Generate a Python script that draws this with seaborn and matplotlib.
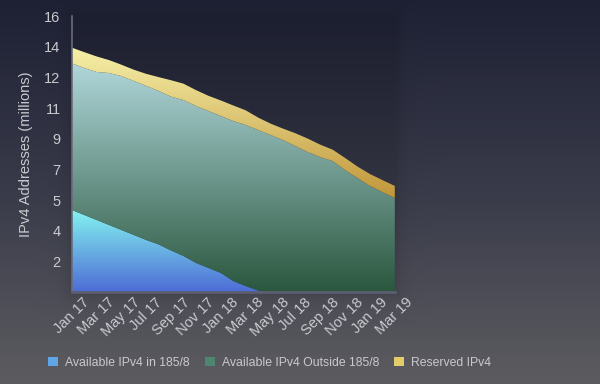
# %%
import numpy as np
import pandas as pd
import matplotlib
matplotlib.use("Agg")
import matplotlib.pyplot as plt
import seaborn as sns
from matplotlib.colors import LinearSegmentedColormap
from matplotlib.patches import Patch

# %%
months = pd.date_range("2017-01-01", "2019-03-01", freq="MS")
xtick_labels = ["Jan 17", "Mar 17", "May 17", "Jul 17", "Sep 17", "Nov 17", "Jan 18",
                "Mar 18", "May 18", "Jul 18", "Sep 18", "Nov 18", "Jan 19", "Mar 19"]
ytick_labels = ["2", "4", "5", "7", "9", "11", "12", "14", "16"]

# millions of addresses, one value per month
avail_185 = [4.77, 4.48, 4.19, 3.90, 3.61, 3.32, 3.03, 2.77, 2.42, 2.10, 1.70, 1.41, 1.12,
             0.65, 0.36, 0.10, 0, 0, 0, 0, 0, 0, 0, 0, 0, 0, 0]
avail_outside = [8.49, 8.51, 8.57, 8.80, 8.91, 8.92, 8.92, 8.89, 8.91, 9.03, 9.09, 9.09, 9.09,
                 9.27, 9.33, 9.30, 9.11, 8.82, 8.47, 8.12, 7.83, 7.60, 7.08, 6.62, 6.16, 5.81, 5.46]
reserved = [0.91, 0.92, 0.90, 0.75, 0.66, 0.65, 0.70, 0.80, 0.95, 0.95, 0.92, 0.88, 0.90,
            0.90, 0.85, 0.72, 0.66, 0.66, 0.74, 0.78, 0.72, 0.66, 0.70, 0.66, 0.69, 0.69, 0.70]

series = ["Available IPv4 in 185/8", "Available IPv4 Outside 185/8", "Reserved IPv4"]
grad_colors = [("#4d6cd6", "#84f4f0"), ("#2a573e", "#b0d6da"), ("#c1963a", "#f6f0a8")]
legend_colors = ["#5fa6e6", "#4f8670", "#e2cd6a"]

# %%
sns.set_theme(style="dark")
txt = "#c9c9ce"
plt.rcParams["font.family"] = ["Liberation Sans", "DejaVu Sans"]

fig = plt.figure(figsize=(6, 3.84), dpi=100)

# background gradient + soft shadow around the plot area
H, W = 384, 600
yy, xx = np.mgrid[0:H, 0:W]
bg_cmap = LinearSegmentedColormap.from_list("bg", ["#1e2134", "#393b4a", "#5c5c60"])
bg_rgb = bg_cmap(yy / (H - 1))[..., :3]
dx = np.maximum(np.maximum(72 - xx, xx - 395), 0)
dy = np.maximum(np.maximum(16 - yy, yy - 292), 0)
shade = 0.12 * np.exp(-np.hypot(dx, dy) / 8)
bg_rgb = bg_rgb * (1 - shade[..., None])
bg = fig.add_axes([0, 0, 1, 1], zorder=-10)
bg.imshow(bg_rgb, aspect="auto", extent=[0, 1, 1, 0])
bg.set_axis_off()

ax = fig.add_axes([0.1195, 0.2388, 0.5385, 0.7195])
ax.set_facecolor("none")

x = np.arange(len(months))
polys = ax.stackplot(x, avail_185, avail_outside, reserved, colors=["none"] * 3, linewidth=0)

tops = np.cumsum([avail_185, avail_outside, reserved], axis=0)
grad = np.linspace(0, 1, 256).reshape(-1, 1)
for i, (poly, (c0, c1)) in enumerate(zip(polys, grad_colors)):
    lo = 0 if i < 2 else tops[1].min()
    hi = tops[i].max()
    cmap = LinearSegmentedColormap.from_list(f"g{i}", [c0, c1])
    im = ax.imshow(grad, extent=[x[0], x[-1], lo, hi], origin="lower", aspect="auto",
                   cmap=cmap, zorder=2)
    im.set_clip_path(poly.get_paths()[0], ax.transData)

ax.set_xlim(x[0], x[-1])
ax.set_ylim(0, 16)
ax.set_xticks(x[::2], xtick_labels, rotation=45, color=txt, fontsize=10.5)
ax.set_yticks(np.linspace(0, 16, 10)[1:], ytick_labels, color=txt, fontsize=10.5)
ax.tick_params(axis="both", length=0)
ax.tick_params(axis="y", pad=8)
ax.tick_params(axis="x", pad=2)
ax.grid(False)
for side in ["top", "right"]:
    ax.spines[side].set_visible(False)
ax.spines["left"].set_color("#6a6c7c")
ax.spines["bottom"].set_color("#5b5d70")
ax.spines["left"].set_linewidth(1.2)
ax.spines["bottom"].set_linewidth(2)
ax.set_ylabel("IPv4 Addresses (millions)", color=txt, fontsize=10.5, labelpad=8)

handles = [Patch(facecolor=c, edgecolor="none") for c in legend_colors]
fig.legend(handles, series, loc="center", bbox_to_anchor=(0.449, 0.055), ncol=3,
           frameon=False, labelcolor=txt, fontsize=8.8, handlelength=0.82,
           handleheight=0.82, handletextpad=0.57, columnspacing=1.23)

fig.savefig("out.png", dpi=100)
